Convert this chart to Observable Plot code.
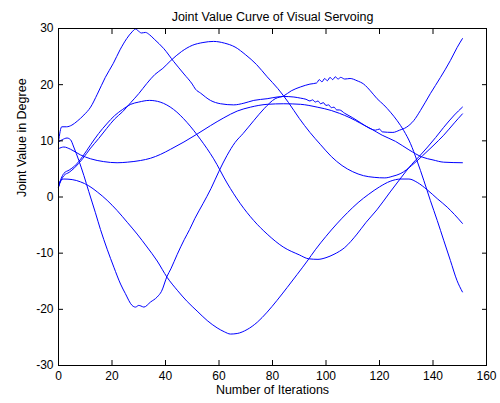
<!DOCTYPE html>
<html>
<head>
<meta charset="utf-8">
<script src="https://cdn.jsdelivr.net/npm/d3@7"></script>
<script src="https://cdn.jsdelivr.net/npm/@observablehq/plot@0.6"></script>
<style>
  html, body { margin: 0; padding: 0; background: #fff; }
  #chart { width: 500px; height: 403px; }
</style>
</head>
<body>
<div id="chart"></div>
<script>
// ---- data ----
const titleText = "Joint Value Curve of Visual Servoing";
const xLabelText = "Number of Iterations";
const yLabelText = "Joint Value in Degree";
const xTicks = [0, 20, 40, 60, 80, 100, 120, 140, 160];
const yTicks = [-30, -20, -10, 0, 10, 20, 30];

// joint 1: peak 30 near iteration 29, ends at 28
const joint1 = [[0,9.8],[1.2,12.5],[3,12.5],[5,12.8],[7,13.5],[9.5,14.6],[12,16],[14.5,18.3],[17.5,21.3],[20.5,23.8],[23,26.2],[25.5,28.2],[27.5,29.4],[28.8,29.9],[30,29.5],[31,29.2],[32.5,29.3],[34,28.9],[35.8,28.1],[39.4,26.4],[43.1,24.1],[46.9,21.9],[50,20.1],[51.2,19.2],[53.1,18.5],[56.8,17.2],[60.6,16.6],[65.5,16.4],[69.3,16.7],[73,17.2],[78,17.5],[81.7,17.8],[84.2,17.9],[88,17.8],[90.5,17.6],[92.5,17.4],[94,17.1],[95,17.3],[96,16.9],[97,17.1],[98,16.6],[99,16.8],[100,16.3],[101,16.4],[102,15.9],[103,16],[104,15.5],[105,15.5],[107,14.9],[110,14.1],[113,13.2],[116,12.3],[118.5,11.9],[120,12.1],[121,11.6],[125,11.5],[127.5,11.9],[130,12.4],[132.8,13.6],[135.3,15.4],[139,18.4],[142.8,21.3],[146.5,24.3],[149,26.6],[151,28.2]];

// joint 2: big hump 27.7 near iteration 58, ends near 14.8
const joint2 = [[0,1.8],[1,3],[2,3.8],[4,4.4],[6,5.2],[9,6.8],[12,8.7],[15,10.4],[18,12.2],[21,13.9],[24,15.2],[27,16.8],[30,18.4],[33,20.2],[36,21.8],[39,22.9],[42,24.3],[46,25.9],[50,27],[54,27.5],[58,27.7],[62,27.4],[66,26.7],[70,25.3],[74,23.6],[78,21.4],[82,19.3],[86,16.8],[90,14],[94,11.5],[98,9.3],[102,7.2],[106,5.6],[110,4.5],[114,3.8],[118,3.5],[122,3.4],[125,3.7],[128,4.2],[132,5.6],[136,7.3],[140,9.1],[144,11],[148,13.2],[151,14.8]];

// joint 3: starts 8.6, dips to 6, broad hump 16.6, ends flat at 6.1
const joint3 = [[0,8.6],[2,8.9],[4.5,8.5],[8.2,7.5],[12,6.8],[16.9,6.3],[21.9,6.1],[25.7,6.2],[30.7,6.5],[34.4,6.9],[38.2,7.6],[41.9,8.5],[46.9,9.8],[51.8,11.2],[56.8,12.7],[61.8,14.1],[66.8,15.3],[71.8,16],[78,16.5],[84.2,16.6],[90.5,16.5],[96.7,16],[102,15.4],[105,14.9],[109,14.1],[113,13.1],[117,12.1],[121,11],[126,9.9],[131,8.4],[136,7.1],[140,6.6],[144,6.2],[151,6.1]];

// joint 4: hump 17 near iteration 33, trough -11 near 97, ends at 16
const joint4 = [[0,1.8],[1,3.3],[2,4.2],[4,4.8],[6,5.5],[9,7.2],[12,9.3],[15,11.3],[18,13],[21,14.5],[24,15.6],[27,16.5],[30,16.9],[34,17.2],[38,16.9],[43,15.6],[48,13.3],[53,10.3],[58,6.8],[63,2.5],[68,-1.2],[73,-4.2],[78,-6.6],[84,-8.9],[90,-10.3],[93.5,-11],[97,-11.1],[100,-10.8],[103,-10.2],[107,-9],[111.6,-6.6],[115,-4.5],[119,-2.3],[124,0.9],[128,3.4],[132,5.8],[135,7.3],[138,8.9],[141,10.6],[144,12.4],[148,14.6],[151,16]];

// joint 5: trough -19.6 near iteration 29, noisy hump 21 near 103, ends at -17
const joint5 = [[0,9.8],[1.4,10.2],[3.2,10.5],[4.5,10.2],[5.7,8.9],[7.6,6.5],[9.5,3.8],[11.3,1],[13.8,-2.8],[15.7,-5.8],[18.2,-9.3],[20.7,-12.5],[23.2,-15.5],[25,-17.2],[27.5,-19.3],[28.8,-19.6],[30,-19.3],[30.8,-19.4],[31.9,-19.6],[34.4,-18.7],[36.9,-17.8],[38.5,-16.8],[40.6,-14.1],[42,-12.8],[44.4,-10.2],[47,-7.6],[49,-5.8],[51,-3.8],[54,-1.2],[57,1.5],[60,4.6],[63,7.4],[66,9.7],[69,11.3],[73,13.6],[77,15.8],[81,17.5],[84.2,18],[87,18.9],[90.5,19.6],[94,20.1],[96.5,20.3],[97.5,20.9],[98.5,20.5],[99.5,21.1],[100.5,20.7],[101.5,21.3],[102.5,20.9],[103.5,21.4],[104.5,21],[105.5,21.3],[107,21],[109,21.1],[111.6,20.7],[114.1,20.1],[116.6,18.9],[119.1,17.5],[121.6,16.4],[124.1,15.1],[126.6,13.6],[129.1,11.8],[131.6,9.5],[134,6.5],[136.6,2.9],[139,-0.6],[141.6,-4.2],[144,-7.7],[146.5,-11.3],[149,-14.9],[151,-16.9]];

// joint 6: long descent to -24.4 near iteration 65, hump 3.2 near 130, ends at -4.7
const joint6 = [[0,1.8],[0.7,2.9],[2,3.2],[5.1,3.1],[8.2,2.7],[11.3,2],[14.5,0.9],[18.2,-0.6],[21.9,-2.4],[25.7,-4.5],[29.4,-6.6],[33.1,-8.9],[36.9,-11.4],[40.6,-14.3],[44.4,-16.6],[48.1,-18.6],[51.8,-20.3],[55.6,-22],[59.3,-23.3],[62,-24],[64.3,-24.4],[66.8,-24.3],[70.5,-23.6],[74.3,-22.3],[78,-20.5],[81.7,-18.4],[85.5,-16.1],[89.2,-13.8],[93,-11.4],[96,-9.4],[100,-7],[104,-4.8],[108,-2.8],[112,-1],[116,0.5],[120,1.8],[124,2.8],[128,3.2],[131,3.2],[134.1,2.6],[137.8,1.3],[141.6,-0.3],[145.3,-1.8],[148,-3.1],[151,-4.7]];

const joints = [joint1, joint2, joint3, joint4, joint5, joint6];
const lineColor = "#0000ff";
const font = "'Liberation Sans', Arial, Helvetica, sans-serif";
const tickLen = 5;
const plain = d => String(d);   // hyphen-minus, as in the reference
const blank = () => "";

const lineMarks = joints.map(j => Plot.line(j, {
  x: d => d[0], y: d => d[1], stroke: lineColor, strokeWidth: 1, curve: "monotone-x"
}));

const chart = Plot.plot({
  width: 500,
  height: 403,
  marginLeft: 58,
  marginRight: 14,
  marginTop: 28,
  marginBottom: 38,
  x: {domain: [0, 160]},
  y: {domain: [-30, 30]},
  style: {fontFamily: font, fontSize: "12px", background: "#ffffff", color: "#000"},
  marks: [
    ...lineMarks,
    Plot.frame({stroke: "#000", strokeWidth: 1}),
    // tick labels
    Plot.axisX(xTicks, {anchor: "bottom", tickSize: 0, tickPadding: 6, tickFormat: plain, label: null, fontSize: 12}),
    Plot.axisY(yTicks, {anchor: "left", tickSize: 0, tickPadding: 5, tickFormat: plain, label: null, fontSize: 12}),
    // inward ticks on all four sides (outward ticks shifted back into the frame)
    Plot.axisX(xTicks, {anchor: "bottom", tickSize: tickLen, dy: -tickLen, tickFormat: blank, label: null}),
    Plot.axisX(xTicks, {anchor: "top", tickSize: tickLen, dy: tickLen, tickFormat: blank, label: null}),
    Plot.axisY(yTicks, {anchor: "left", tickSize: tickLen, dx: tickLen, tickFormat: blank, label: null}),
    Plot.axisY(yTicks, {anchor: "right", tickSize: tickLen, dx: -tickLen, tickFormat: blank, label: null}),
    // title and axis labels
    Plot.text([titleText], {frameAnchor: "top", dy: -16, text: d => d, fontSize: 12.5}),
    Plot.text([xLabelText], {frameAnchor: "bottom", dy: 28, text: d => d, fontSize: 12.5}),
    Plot.text([yLabelText], {frameAnchor: "left", dx: -37, rotate: -90, text: d => d, fontSize: 12.5})
  ]
});
document.getElementById("chart").appendChild(chart);
</script>
</body>
</html>
